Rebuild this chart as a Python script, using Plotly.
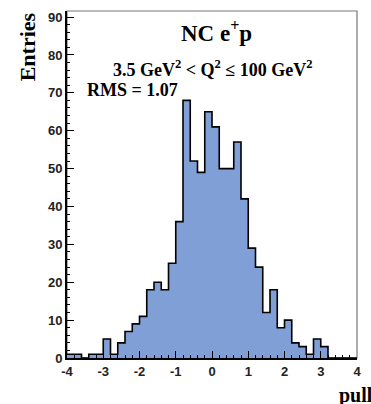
import numpy as np
import plotly.graph_objects as go

# bin lower edges from -4 to 3.8 (width 0.2)
bin_edges = np.round(np.linspace(-4, 4, 41), 1)
counts = [1, 1, 0, 1, 1, 5, 1, 4, 7, 9,
          11, 18, 20, 18, 25, 36, 68, 52, 49, 65,
          61, 50, 50, 57, 42, 29, 24, 12, 18, 8,
          10, 4, 3, 1, 5, 3, 0, 0, 0, 0]
x_ticks = [-4, -3, -2, -1, 0, 1, 2, 3, 4]
x_ticktext = ["-4", "-3", "-2", "-1", "0", "1", "2", "3", "4"]
y_ticks = [0, 10, 20, 30, 40, 50, 60, 70, 80, 90]

xs = list(bin_edges)
ys = list(counts) + [counts[-1]]

fig = go.Figure()
fig.add_trace(go.Scatter(
    x=xs, y=ys, mode="lines", line=dict(shape="hv", color="black", width=1.6),
    fill="tozeroy", fillcolor="#7f9fd6", hoverinfo="skip", showlegend=False))

W, H = 371, 404
L, R, T, B = 67, 11, 10, 46
pw, ph = W - L - R, H - T - B

def px(x):
    return (x - L) / pw

def py(y):
    return (H - B - y) / ph

serif = "Liberation Serif"
sans = "Liberation Sans"

fig.update_layout(
    width=W, height=H, margin=dict(l=L, r=R, t=T, b=B),
    paper_bgcolor="white", plot_bgcolor="white",
    xaxis=dict(range=[-4, 4], tickvals=x_ticks, ticktext=x_ticktext,
               ticks="inside", ticklen=7, tickwidth=1.2, tickcolor="black",
               minor=dict(ticks="inside", dtick=0.2, tick0=-4, ticklen=3, tickcolor="black"),
               showline=True, linecolor="black", linewidth=2, showgrid=False, zeroline=False,
               tickfont=dict(family=sans, size=13, color="#222", weight="bold")),
    yaxis=dict(range=[0, 91.6], tickvals=y_ticks,
               ticks="inside", ticklen=7, tickwidth=1.2, tickcolor="black",
               minor=dict(ticks="inside", dtick=2, tick0=0, ticklen=3, tickcolor="black"),
               showline=True, linecolor="black", linewidth=2, showgrid=False, zeroline=False,
               tickfont=dict(family=sans, size=13, color="#222", weight="bold")),
    shapes=[dict(type="rect", xref="paper", yref="paper", x0=0, x1=1, y0=0, y1=1,
                 line=dict(color="#777", width=1.2), layer="below")],
    annotations=[
        dict(text="NC e<sup>+</sup>p", x=px(218), y=py(31), xref="paper", yref="paper",
             xanchor="center", yanchor="middle",
             showarrow=False, font=dict(family=serif, size=23, color="black", weight="bold")),
        dict(text="3.5 GeV<sup>2</sup> < Q<sup>2</sup> ≤ 100 GeV<sup>2</sup>", x=px(215), y=py(68),
             xref="paper", yref="paper", showarrow=False, xanchor="center", yanchor="middle",
             font=dict(family=serif, size=18, color="black", weight="bold")),
        dict(text="RMS = 1.07", x=px(85), y=py(89), xref="paper", yref="paper", xanchor="left",
             yanchor="middle",
             showarrow=False, font=dict(family=serif, size=18, color="black", weight="bold")),
        dict(text="Entries", x=px(27), y=py(46), xref="paper", yref="paper", textangle=-90,
             xanchor="center", yanchor="middle",
             showarrow=False, font=dict(family=serif, size=22, color="black", weight="bold")),
        dict(text="pull", x=px(340), y=py(396), xref="paper", yref="paper", xanchor="left",
             yanchor="middle",
             showarrow=False, font=dict(family=serif, size=20, color="black", weight="bold")),
    ],
)

fig.write_html("out.html")
